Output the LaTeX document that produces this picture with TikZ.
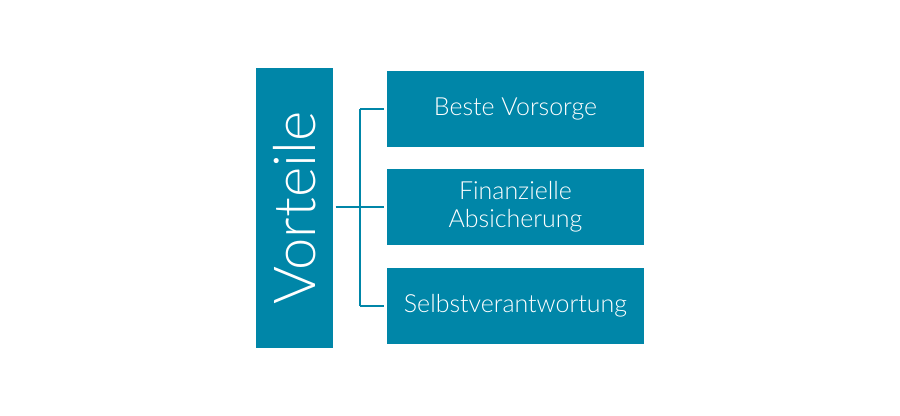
\documentclass[tikz,border=0pt]{standalone}
\usepackage{fontspec}
\setmainfont{Lato Light}
\usetikzlibrary{positioning}
\definecolor{petrol}{HTML}{0086A8}

\begin{document}
\begin{tikzpicture}[
    box/.style={fill=petrol, text=white, minimum width=2.57cm, minimum height=0.76cm, inner sep=0pt, align=center, font=\fontsize{7.1pt}{8.1pt}\selectfont},
    link/.style={draw=petrol, line width=0.6pt}
  ]
        \useasboundingbox (0,0) rectangle (9,4.16);

        % Draw the tall box on the left
        \node[fill=petrol, text=white, minimum width=2.80cm, minimum height=0.77cm, inner sep=0pt, rotate=90, font=\fontsize{16.5pt}{18pt}\selectfont]
            (vort) at (2.945,2.08) {Vorteile};

        % Draw the three boxes on the right
        \node[box] (b1) at (5.155,3.07) {Beste Vorsorge};
        \node[box] (b2) at (5.155,2.09) {Finanzielle\\Absicherung};
        \node[box] (b3) at (5.155,1.10) {Selbstverantwortung};

        % Draw the connector
        \coordinate (j) at (3.60,2.09);
        \draw[link] ([xshift=0.02cm]vort.south |- j) -- (j);
        \draw[link] (j |- b1) -- (j |- b3);
        \draw[link] (j |- b1) -- ([xshift=-0.02cm]b1.west);
        \draw[link] (j) -- ([xshift=-0.02cm]b2.west);
        \draw[link] (j |- b3) -- ([xshift=-0.02cm]b3.west);
    \end{tikzpicture}
\end{document}
